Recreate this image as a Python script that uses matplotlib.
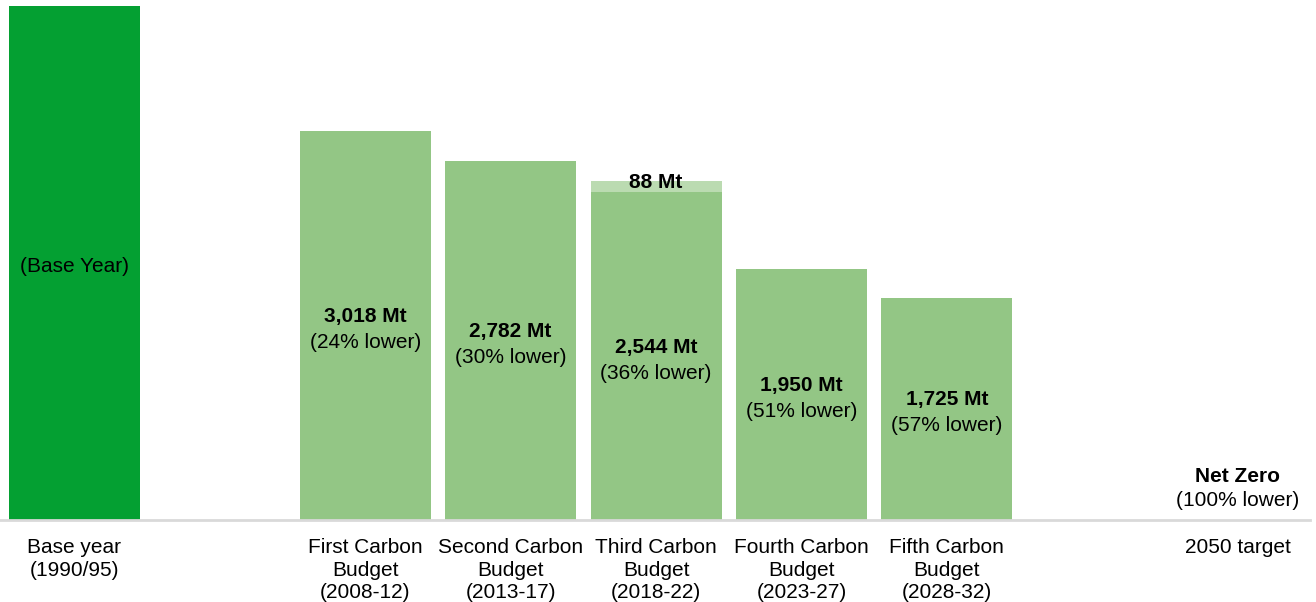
import matplotlib
matplotlib.use("Agg")
import matplotlib.pyplot as plt

plt.rcParams['font.family'] = ['Liberation Sans', 'DejaVu Sans']

# Emissions caps (MtCO2e) per period
categories = ["Base year\n(1990/95)", "First Carbon\nBudget\n(2008-12)", "Second Carbon\nBudget\n(2013-17)",
              "Third Carbon\nBudget\n(2018-22)", "Fourth Carbon\nBudget\n(2023-27)", "Fifth Carbon\nBudget\n(2028-32)",
              "2050 target"]
positions = [0, 2, 3, 4, 5, 6, 8]
base_value = 3988
budget_values = [3018, 2782, 2544, 1950, 1725]
budget_labels = ["3,018 Mt", "2,782 Mt", "2,544 Mt", "1,950 Mt", "1,725 Mt"]
reductions = ["(24% lower)", "(30% lower)", "(36% lower)", "(51% lower)", "(57% lower)"]
third_extra = 88  # carry-forward added to the third budget
third_index = 2

base_color = "#04a032"
budget_color = "#93c685"
extra_color = "#bbdbb1"
fs = 15

fig = plt.figure(figsize=(13.16, 6.02), dpi=100)
ax = fig.add_axes([0, 1 - 520 / 602, 1310 / 1316, 520 / 602])
ax.set_xlim(-0.512, 8.497)
ax.set_ylim(0, 4034)
ax.axis("off")

px = 4034 / 520  # data units per pixel

width = 0.9
ax.bar(positions[0], base_value, width=width, color=base_color)
ax.text(positions[0], base_value / 2 - 4 * px, "(Base Year)", ha="center", va="center", fontsize=fs)

bpos = positions[1:6]
ax.bar(bpos, budget_values, width=width, color=budget_color)
ax.bar(bpos[third_index], third_extra, bottom=budget_values[third_index], width=width, color=extra_color)
ax.text(bpos[third_index], budget_values[third_index] + 10 * px, f"{third_extra} Mt",
        ha="center", va="center", fontsize=fs, fontweight="bold")

for x, v, lab, red in zip(bpos, budget_values, budget_labels, reductions):
    mid = v / 2
    ax.text(x, mid + 9 * px, lab, ha="center", va="center", fontsize=fs, fontweight="bold")
    ax.text(x, mid - 17 * px, red, ha="center", va="center", fontsize=fs)

# Net Zero target annotation above the baseline
ax.text(positions[6], 43 * px, "Net Zero", ha="center", va="center", fontsize=fs, fontweight="bold")
ax.text(positions[6], 19 * px, "(100% lower)", ha="center", va="center", fontsize=fs)

# baseline
ax.axhline(0, color="#d9d9d9", lw=2, clip_on=False)

# category labels below the baseline
for x, c in zip(positions, categories):
    ax.text(x, -18 * px, c, ha="center", va="top", fontsize=fs, linespacing=1.24, clip_on=False)

fig.savefig("out.png", dpi=100)
